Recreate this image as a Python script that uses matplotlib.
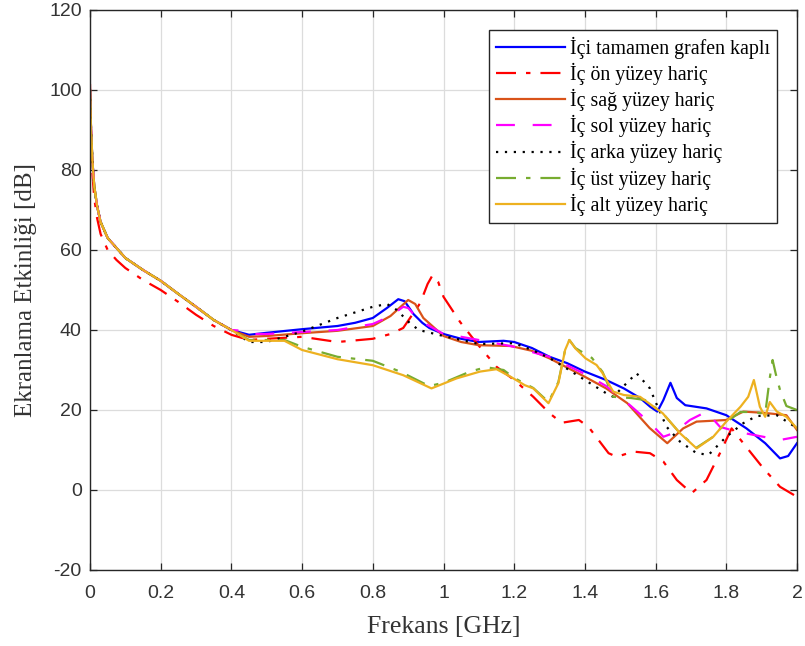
import numpy as np
import matplotlib
matplotlib.use('Agg')
import matplotlib.pyplot as plt

plt.rcParams['axes.unicode_minus'] = False

# shared low-frequency decay (all cases almost identical there)
f_start = [0, 0.003, 0.007, 0.012, 0.02, 0.03, 0.05, 0.075, 0.1, 0.15, 0.2, 0.25, 0.3, 0.35, 0.4]
v_start = [100, 90, 82, 76, 71, 67, 63, 60.5, 58, 55, 52.3, 49, 45.8, 42.5, 40]
v_start_red = [101.5, 88, 79, 73, 68, 64, 60, 57.5, 55.5, 52.5, 50, 47, 43.8, 41, 38.8]

# İçi tamamen grafen kaplı
f_full = [0.45, 0.5, 0.6, 0.7, 0.75, 0.8, 0.84, 0.872, 0.89, 0.915, 0.94, 0.96, 1.0, 1.05, 1.1,
          1.17, 1.2, 1.25, 1.3, 1.35, 1.4, 1.46, 1.51, 1.556, 1.585, 1.605, 1.622, 1.642, 1.66,
          1.684, 1.744, 1.8, 1.857, 1.91, 1.952, 1.975, 2.0]
v_full = [38.8, 39.3, 40.2, 41, 41.8, 43, 45.5, 47.7, 47.2, 44, 41.8, 40.5, 39, 37.8, 37,
          37.3, 37, 35.5, 33.3, 31.7, 29.6, 27.5, 25.4, 23, 20.8, 19.6, 22.5, 26.8, 23,
          21.2, 20.4, 18.7, 15.4, 11.7, 7.9, 8.5, 11.7]

# İç ön yüzey hariç
f_on = [0.45, 0.5, 0.6, 0.7, 0.8, 0.85, 0.886, 0.934, 0.955, 0.969, 0.985, 1.0, 1.047, 1.094,
        1.15, 1.2, 1.254, 1.3, 1.334, 1.383, 1.41, 1.467, 1.49, 1.537, 1.584, 1.622, 1.66,
        1.702, 1.744, 1.782, 1.815, 1.848, 1.905, 1.952, 2.0]
v_on = [37.5, 37.8, 38.3, 37, 37.8, 39, 40.5, 46.7, 51.5, 53.7, 52, 48.3, 42, 36.7,
        30.8, 27.5, 23.3, 19.2, 16.8, 17.5, 15.8, 9.2, 8.3, 9.6, 9.2, 7.1, 2.5,
        -0.8, 2.5, 9.2, 15.4, 11.7, 5.4, 0.8, -1.7]

# İç sağ yüzey hariç
f_sag = [0.45, 0.5, 0.6, 0.7, 0.8, 0.85, 0.9, 0.92, 0.943, 1.0, 1.05, 1.1, 1.19, 1.25, 1.3,
         1.4, 1.46, 1.52, 1.583, 1.633, 1.678, 1.716, 1.8, 1.848, 1.905, 1.97, 2.0]
v_sag = [38.3, 38.5, 39.2, 39.8, 41, 43.5, 47.5, 46.5, 43, 38.5, 37, 36.2, 36, 34.8, 32.9,
         28.3, 25.4, 21.7, 15.5, 11.7, 15.4, 17.1, 17.5, 19.6, 19.3, 18.7, 15]

# İç sol yüzey hariç
f_sol = [0.433, 0.45, 0.5, 0.6, 0.7, 0.8, 0.85, 0.886, 0.9, 0.93, 1.0, 1.05, 1.1, 1.2, 1.25,
         1.3, 1.4, 1.46, 1.53, 1.585, 1.622, 1.65, 1.697, 1.744, 1.782, 1.829, 1.905, 1.952, 2.0]
v_sol = [39.8, 39, 39, 39.5, 40, 41.5, 43.5, 45.8, 45.5, 42.5, 39, 38.3, 37.5, 35.8, 34.5,
         33.3, 29, 26, 21, 16.7, 13.3, 14.2, 17.5, 19.6, 15.8, 14.6, 13.3, 12.5, 13.3]

# İç arka yüzey hariç
f_arka = [0.45, 0.5, 0.6, 0.7, 0.8, 0.84, 0.868, 0.905, 0.93, 1.0, 1.1, 1.2, 1.25, 1.3, 1.348,
          1.4, 1.46, 1.48, 1.51, 1.546, 1.584, 1.6, 1.631, 1.669, 1.716, 1.75, 1.8, 1.848,
          1.886, 1.943, 2.0]
v_arka = [37, 37, 39.6, 43, 45.8, 46.5, 45, 41.7, 40, 38.5, 36.5, 36.7, 35, 33, 30.4,
          27.5, 24.2, 23.3, 26, 29.2, 25.4, 22, 15.8, 12.1, 9.2, 8.8, 13.3, 16.7,
          18.5, 18.7, 15.5]

# İç üst yüzey hariç
f_ust = [0.45, 0.5, 0.55, 0.6, 0.7, 0.8, 0.88, 0.943, 0.96, 1.0, 1.075, 1.12, 1.17, 1.2, 1.254,
         1.297, 1.325, 1.344, 1.356, 1.373, 1.42, 1.45, 1.48, 1.53, 1.57, 1.62, 1.669, 1.716,
         1.763, 1.8, 1.84, 1.88, 1.91, 1.923, 1.931, 1.94, 1.952, 1.97, 2.0]
v_ust = [37.5, 37.5, 37.5, 35.8, 33.3, 32.3, 29.5, 26.7, 26, 26.8, 29.6, 30.7, 30, 28, 25.5,
         22, 27, 35, 37.5, 35.5, 33, 29.5, 23.3, 23, 22.5, 19.2, 14.2, 10.6,
         13.3, 17, 19.5, 19.5, 19, 28, 32.5, 29, 25, 21, 20]

# İç alt yüzey hariç
f_alt = [0.45, 0.5, 0.55, 0.6, 0.7, 0.8, 0.886, 0.966, 1.037, 1.103, 1.15, 1.19, 1.23, 1.254,
         1.297, 1.325, 1.344, 1.356, 1.373, 1.402, 1.433, 1.45, 1.48, 1.51, 1.556, 1.584, 1.62,
         1.669, 1.716, 1.763, 1.8, 1.84, 1.862, 1.878, 1.895, 1.91, 1.923, 1.943, 1.97, 2.0]
v_alt = [37.3, 37.3, 37.3, 35, 32.7, 31.2, 28.7, 25.4, 27.9, 29.6, 30.2, 28.3, 26.2, 25.4,
         21.7, 26.7, 35, 37.5, 35.4, 32.9, 31.25, 29.2, 24.6, 23.75, 23.3, 21.5, 19.2,
         14.2, 10.4, 13.3, 17.1, 20.8, 23.3, 27.5, 20.8, 18.3, 22, 19.6, 18.3, 15.4]

labels = ['İçi tamamen grafen kaplı', 'İç ön yüzey hariç', 'İç sağ yüzey hariç',
          'İç sol yüzey hariç', 'İç arka yüzey hariç', 'İç üst yüzey hariç', 'İç alt yüzey hariç']

dashdot = (0, (9, 4.5, 2, 4.5))
series = [
    (f_start + f_full, v_start + v_full, '#0000FF', '-'),
    (f_start + f_on, v_start_red + v_on, '#FF0000', dashdot),
    (f_start + f_sag, v_start + v_sag, '#D95319', '-'),
    (f_start + f_sol, v_start + v_sol, '#FF00FF', (0, (8.5, 8))),
    (f_start + f_arka, v_start + v_arka, '#000000', (0, (1, 3))),
    (f_start + f_ust, v_start + v_ust, '#77AC30', dashdot),
    (f_start + f_alt, v_start + v_alt, '#EDB120', '-'),
]

fig = plt.figure(figsize=(8.05, 6.46), dpi=100)
ax = fig.add_axes([90 / 805, 76 / 646, 707 / 805, 560 / 646])

for (f, v, c, ls), lab in zip(series, labels):
    ax.plot(f, v, color=c, linestyle=ls, linewidth=1.6, label=lab)

ax.set_xlim(0, 2)
ax.set_ylim(-20, 120)
ax.set_xticks(np.arange(0, 2.01, 0.2))
ax.set_xticklabels(['0', '0.2', '0.4', '0.6', '0.8', '1', '1.2', '1.4', '1.6', '1.8', '2'])
ax.set_yticks(np.arange(-20, 121, 20))
ax.grid(True, color='#dcdcdc', linewidth=0.9)
ax.set_axisbelow(True)
ax.tick_params(direction='in', length=5, width=0.9, top=True, right=True, colors='#262626',
               labelsize=14)
ax.tick_params(axis='x', pad=11)
ax.tick_params(axis='y', pad=6)
for lbl in ax.get_xticklabels() + ax.get_yticklabels():
    lbl.set_family('Liberation Sans')
    lbl.set_color('#333333')
for sp in ax.spines.values():
    sp.set_color('#262626')
    sp.set_linewidth(1.0)

ax.set_xlabel('Frekans [GHz]', family='Liberation Serif', fontsize=18.5, color='#333333', labelpad=10)
ax.set_ylabel('Ekranlama Etkinliği [dB]', family='Liberation Serif', fontsize=18, color='#333333', labelpad=9)

leg = ax.legend(loc='upper right', prop={'family': 'Liberation Serif', 'size': 14.3},
                handlelength=3.5, handletextpad=0.25, labelspacing=0.2, borderaxespad=1.0,
                fancybox=False, framealpha=1, borderpad=0.35)
leg.get_frame().set_edgecolor('#262626')
leg.get_frame().set_linewidth(1.0)

fig.savefig('out.png', dpi=100)
